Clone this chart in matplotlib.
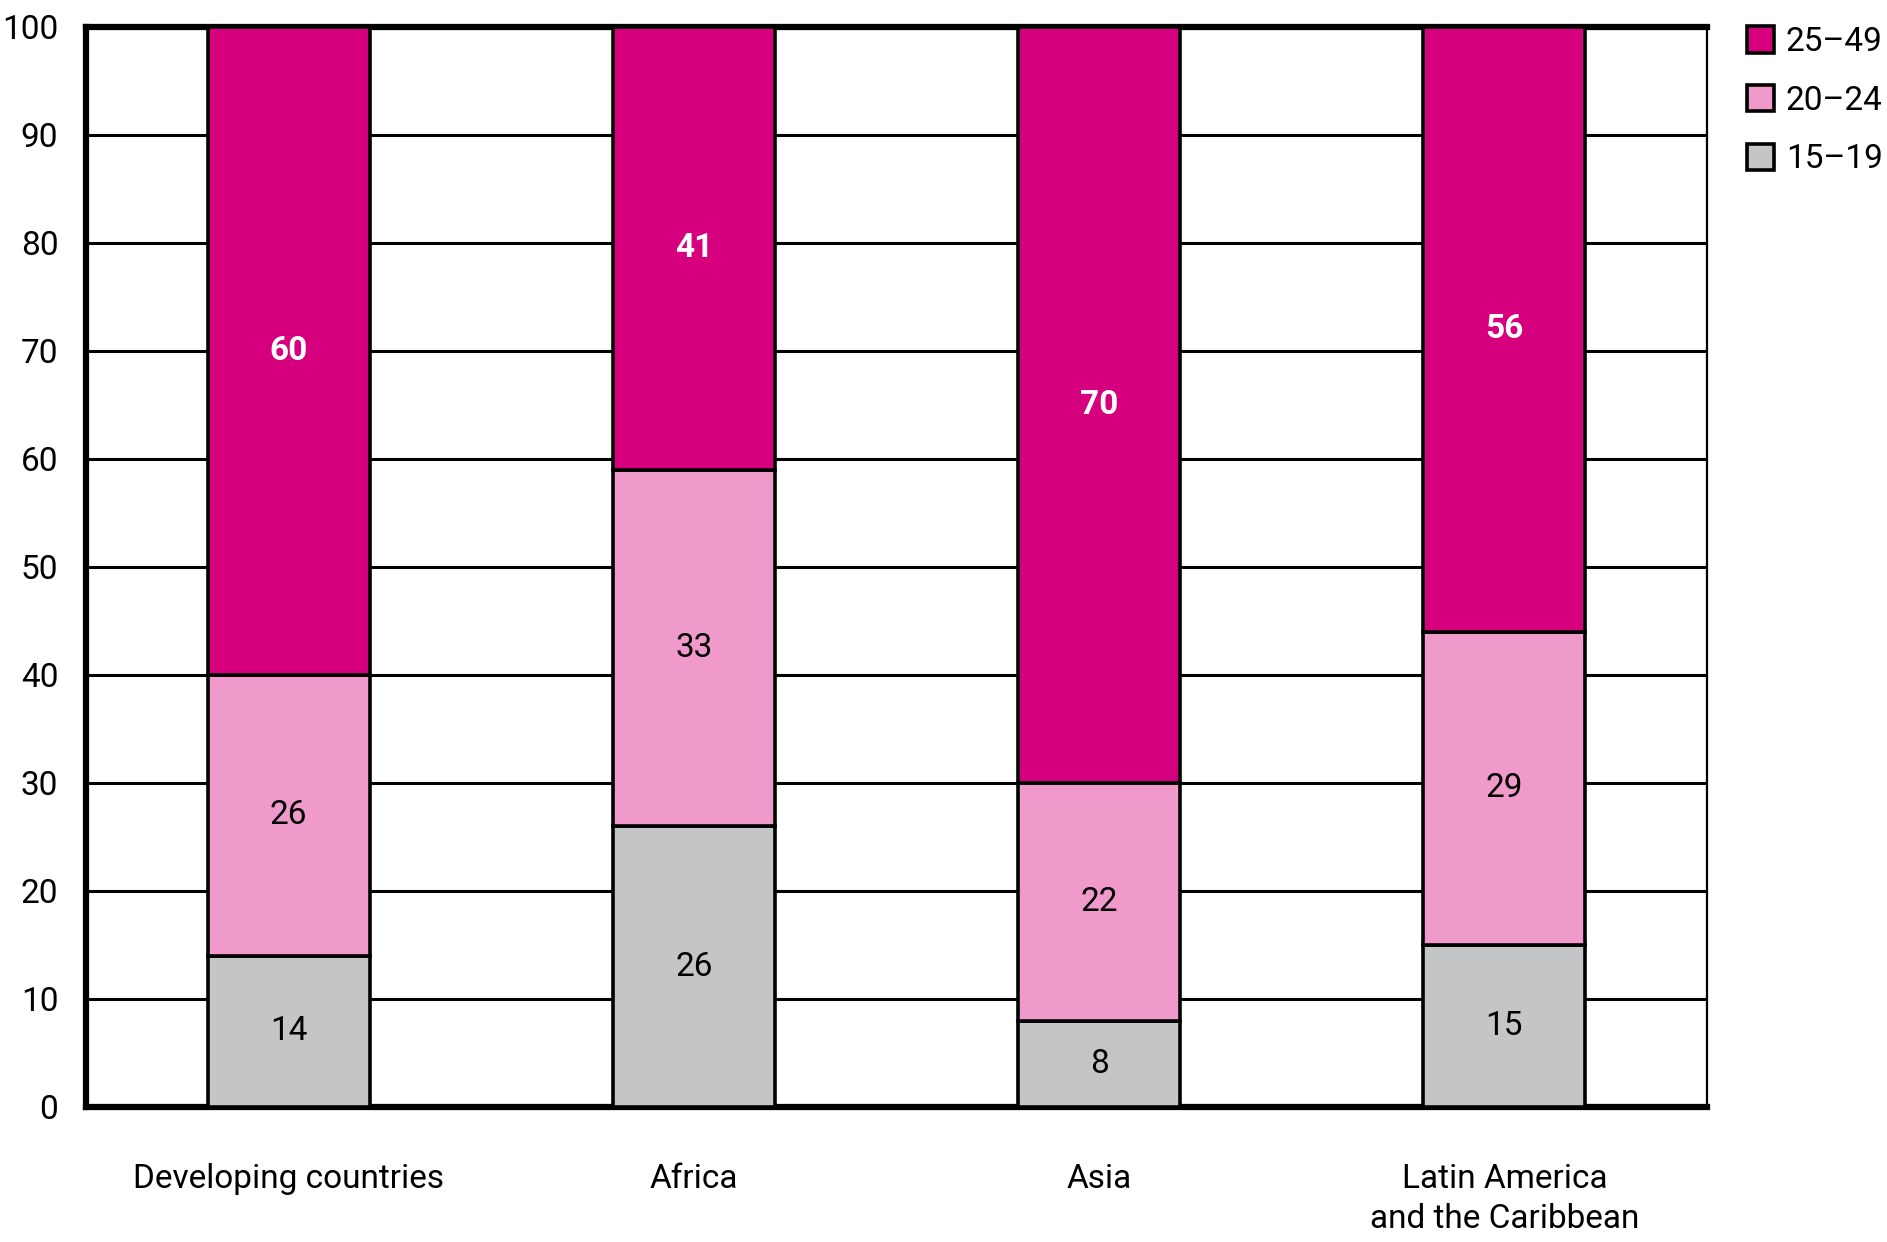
"""Stacked bar chart: share of births by mother's age group."""

import matplotlib

matplotlib.use("Agg")
import matplotlib.pyplot as plt
from matplotlib import font_manager
import numpy as np

regions = ["Developing countries", "Africa", "Asia", "Latin America\nand the Caribbean"]
age_15_19 = [14, 26, 8, 15]
age_20_24 = [26, 33, 22, 29]
age_25_49 = [60, 41, 70, 56]

series = [
    ("15\u201319", age_15_19, "#c4c5c7", "black"),
    ("20\u201324", age_20_24, "#f09acb", "black"),
    ("25\u201349", age_25_49, "#d6007f", "white"),
]

available = {f.name for f in font_manager.fontManager.ttflist}
family = "Liberation Sans Narrow" if "Liberation Sans Narrow" in available else "Roboto"
plt.rcParams["font.family"] = [family, "DejaVu Sans"]

fs = 24
fig = plt.figure(figsize=(18.87, 12.42), dpi=100)
ax = fig.add_axes([0.0456, 0.1087, 0.8590, 0.8696])

x = np.arange(len(regions))
bottom = np.zeros(len(regions))
handles = {}
for name, vals, color, txt_color in series:
    vals = np.array(vals, dtype=float)
    bars = ax.bar(x, vals, width=0.4, bottom=bottom, color=color,
                  edgecolor="black", linewidth=2.6, zorder=3)
    handles[name] = bars
    for xi, b, v in zip(x, bottom, vals):
        ax.text(xi, b + v / 2, f"{v:.0f}", ha="center", va="center",
                fontsize=fs, color=txt_color,
                fontweight="bold" if txt_color == "white" else "normal", zorder=4)
    bottom += vals

ax.set_xlim(-0.5, 3.5)
ax.set_ylim(0, 100)
ax.set_yticks(range(0, 101, 10))
ax.set_xticks(x)
ax.set_xticklabels(regions, linespacing=1.35)
ax.tick_params(axis="both", length=0, labelsize=fs)
ax.tick_params(axis="x", pad=40)
ax.tick_params(axis="y", pad=20)
ax.yaxis.grid(True, color="black", linewidth=2.2, zorder=0)
ax.set_axisbelow(True)

for side in ["left", "top", "bottom"]:
    ax.spines[side].set_linewidth(4.5)
ax.spines["right"].set_linewidth(1.6)

order = ["25\u201349", "20\u201324", "15\u201319"]
leg = fig.legend([handles[k] for k in order], order, loc="upper left",
                 bbox_to_anchor=(0.926, 0.979), frameon=False, fontsize=fs,
                 handlelength=0.8, handleheight=0.85, handletextpad=0.35,
                 labelspacing=0.8, borderpad=0, borderaxespad=0)

fig.savefig("out.png", dpi=100)
plt.close(fig)
